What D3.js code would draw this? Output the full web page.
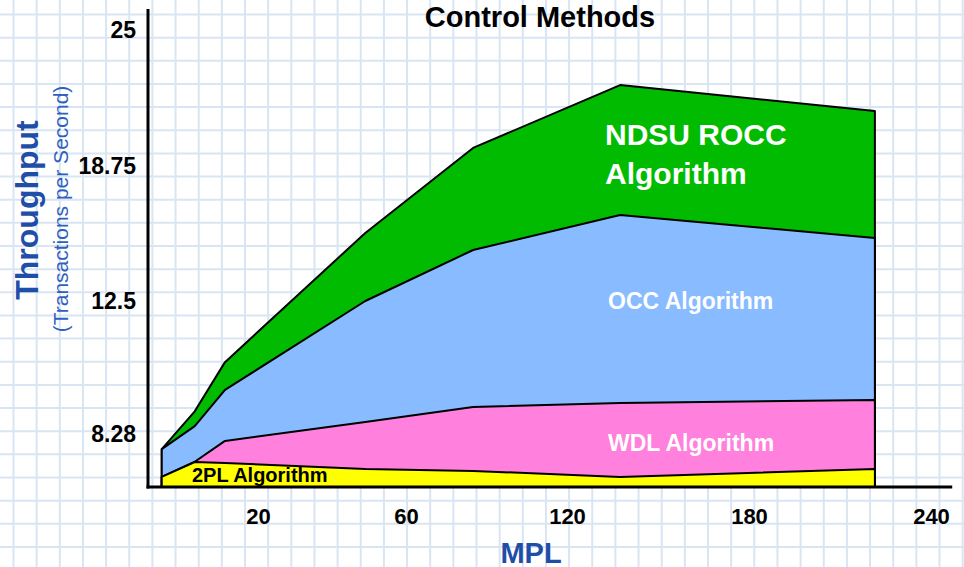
<!DOCTYPE html>
<html>
<head>
<meta charset="utf-8">
<script src="https://cdn.jsdelivr.net/npm/d3@7"></script>
<style>
  html, body { margin: 0; padding: 0; background: #ffffff; }
  svg { display: block; }
  text { font-family: "Liberation Sans", Arial, sans-serif; }
</style>
</head>
<body>
<svg id="chart" width="964" height="567"></svg>
<script>
// ---- data ----
const mpl   = [2.5, 8.5, 14, 49, 85, 137.5, 221.5];
const rocc  = [7.80, 9.00, 10.56, 15.65, 19.58, 22.47, 21.28];
const occ   = [7.80, 8.53, 9.68, 12.50, 14.86, 16.48, 15.42];
const wdl   = [6.92, 7.40, 8.06, 8.66, 9.14, 9.26, 9.36];
const twoPL = [6.92, 7.39, 7.36, 7.17, 7.11, 6.92, 7.17];

const xTicks = [20, 60, 120, 180, 240];
const yTicks = [8.28, 12.5, 18.75, 25];
const yBase = 6.6;
const xMax = 247;

const seriesNames  = ["NDSU ROCC Algorithm", "OCC Algorithm", "WDL Algorithm", "2PL Algorithm"];
const seriesValues = [rocc, occ, wdl, twoPL];
const seriesColors = ["#00bb00", "#88bbff", "#ff80dd", "#ffff00"];

// ---- layout ----
const W = 964, H = 567;
const svg = d3.select("#chart");

// graph-paper background
const gridStep = 23.15, gridOffX = 13.5, gridOffY = 14.5;
const grid = svg.append("g");
grid.selectAll("line.v").data(d3.range(gridOffX, W, gridStep)).join("line")
  .attr("x1", d => d).attr("x2", d => d).attr("y1", 0).attr("y2", H)
  .attr("stroke", "#d9e5f3").attr("stroke-width", 2);
grid.selectAll("line.h").data(d3.range(gridOffY, H, gridStep)).join("line")
  .attr("x1", 0).attr("x2", W).attr("y1", d => d).attr("y2", d => d)
  .attr("stroke", "#d9e5f3").attr("stroke-width", 2);

// scales (piecewise linear, as the original axis spacing is uneven)
const x = d3.scaleLinear()
  .domain([0, 20, 60, 120, 180, 240])
  .range([148, 258, 406, 567, 749, 931]);
const y = d3.scaleLinear()
  .domain([yBase, 8.28, 12.5, 18.75, 25])
  .range([487, 434, 301, 166, 30]);

// areas (largest drawn first)
const area = d3.area()
  .x((d, i) => x(mpl[i]))
  .y0(y(yBase))
  .y1(d => y(d));

svg.append("g").selectAll("path").data(seriesValues).join("path")
  .attr("d", d => area(d) + "Z")
  .attr("fill", (d, i) => seriesColors[i])
  .attr("stroke", "#000")
  .attr("stroke-width", 2)
  .attr("stroke-linejoin", "round");

// axes lines
svg.append("line")
  .attr("x1", x(0)).attr("x2", x(0)).attr("y1", 9).attr("y2", y(yBase) + 1.5)
  .attr("stroke", "#000").attr("stroke-width", 3);
svg.append("line")
  .attr("x1", x(0) - 1.5).attr("x2", x(xMax)).attr("y1", y(yBase)).attr("y2", y(yBase))
  .attr("stroke", "#000").attr("stroke-width", 3);

// y axis labels
const yAxis = d3.axisLeft(y).tickValues(yTicks).tickSize(0).tickPadding(12)
  .tickFormat(d => String(d));
const gy = svg.append("g").attr("transform", `translate(${x(0)},0)`).call(yAxis);
gy.select(".domain").remove();
gy.selectAll("text")
  .attr("font-family", "'Liberation Sans', Arial, sans-serif")
  .attr("font-size", 23).attr("font-weight", "bold").attr("fill", "#000");

// x axis labels
const xAxis = d3.axisBottom(x).tickValues(xTicks).tickSize(0).tickPadding(21)
  .tickFormat(d => String(d));
const gx = svg.append("g").attr("transform", `translate(0,${y(yBase)})`).call(xAxis);
gx.select(".domain").remove();
gx.selectAll("text")
  .attr("font-family", "'Liberation Sans', Arial, sans-serif")
  .attr("font-size", 22).attr("font-weight", "bold").attr("fill", "#000");

// title
svg.append("text").attr("x", 540).attr("y", 27).attr("text-anchor", "middle")
  .attr("font-size", 29).attr("font-weight", "bold").attr("fill", "#000")
  .text("Control Methods");

// axis titles
svg.append("text").attr("transform", "translate(38,210) rotate(-90)")
  .attr("text-anchor", "middle").attr("font-size", 32).attr("font-weight", "bold")
  .attr("fill", "#1f4ea8").text("Throughput");
svg.append("text").attr("transform", "translate(68,209) rotate(-90)")
  .attr("text-anchor", "middle").attr("font-size", 21)
  .attr("fill", "#2f5fc0").text("(Transactions per Second)");
svg.append("text").attr("x", 531).attr("y", 563).attr("text-anchor", "middle")
  .attr("font-size", 29).attr("font-weight", "bold").attr("fill", "#1f4ea8")
  .text("MPL");

// series labels inside areas
const lbl = svg.append("g").attr("font-weight", "bold");
lbl.append("text").attr("x", 605).attr("y", 145).attr("font-size", 30).attr("fill", "#fff").text("NDSU ROCC");
lbl.append("text").attr("x", 605).attr("y", 184).attr("font-size", 30).attr("fill", "#fff").text("Algorithm");
lbl.append("text").attr("x", 608).attr("y", 309).attr("font-size", 23).attr("fill", "#fff").text(seriesNames[1]);
lbl.append("text").attr("x", 608).attr("y", 451).attr("font-size", 23).attr("fill", "#fff").text(seriesNames[2]);
lbl.append("text").attr("x", 192).attr("y", 482).attr("font-size", 20).attr("fill", "#000").text(seriesNames[3]);
</script>
</body>
</html>
